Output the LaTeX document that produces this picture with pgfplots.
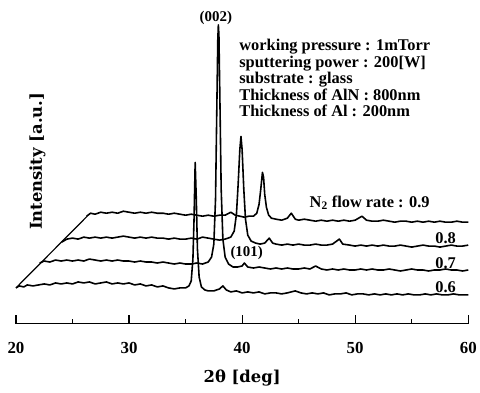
\documentclass[border=0pt]{standalone}
\usepackage{fontspec}
\setmainfont{Liberation Serif}
\newfontfamily\labfont{DejaVu Serif}
\usepackage{pgfplots}
\pgfplotsset{compat=1.18}
\begin{document}
\begin{tikzpicture}
\begin{axis}[
  x=11.35bp, y=1bp,
  xmin=20, xmax=60, ymin=0, ymax=325,
  axis x line=bottom, axis y line=none,
  axis line style={-, line width=1.2bp},
  xtick={20,30,40,50,60},
  minor x tick num=1,
  tick align=inside,
  major tick length=9bp, minor tick length=5bp,
  tick style={line width=1.2bp, black},
  ytick=\empty,
  clip=false,
  /pgf/number format/assume math mode=true,
  xticklabel style={font=\fontsize{17}{20}\selectfont\bfseries, anchor=base, yshift=-30bp},
]
% invisible frame setting the picture size
\path (axis cs:18.590,-69) rectangle (axis cs:60.881,325);

% N2 = 0.6
\addplot[black, line width=1.6bp, line join=round] coordinates {
(20.0,36) (20.3,38) (20.7,37) (21.0,39) (21.5,38) (22.0,39) (22.5,40) (23.0,39) (23.5,41) (24.0,40)
(24.5,41) (25.0,40) (25.5,42) (26.0,41) (26.5,42) (27.0,40) (27.5,41) (28.0,42) (28.5,40) (29.0,41)
(29.5,40) (30.0,41) (30.5,39) (31.0,40) (31.5,38) (32.0,39) (32.5,37) (33.0,38) (33.5,36) (34.0,35)
(34.5,36) (35.0,36) (35.3,38) (35.5,43) (35.65,65) (35.75,105) (35.85,162) (35.95,125) (36.05,75) (36.2,47)
(36.4,37) (36.7,34) (37.0,33) (37.5,33) (38.0,35) (38.3,38) (38.6,34) (39.0,32) (39.5,33) (40.0,31)
(40.5,32) (41.0,31) (41.5,32) (42.0,30) (42.5,31) (43.0,31) (43.5,30) (44.0,31) (44.7,33) (45.2,31)
(45.7,30) (46.2,31) (46.7,30) (47.2,31) (47.7,29) (48.2,30) (48.7,30) (49.2,31) (49.7,29) (50.2,30)
(50.7,30) (51.2,29) (51.7,30) (52.2,29) (52.7,30) (53.2,29) (53.7,30) (54.2,29) (54.7,30) (55.2,29)
(55.7,29) (56.2,30) (56.7,29) (57.2,30) (57.7,29) (58.2,29) (58.7,30) (59.2,29) (59.7,29) (60.0,29)
};
% N2 = 0.7
\addplot[black, line width=1.6bp, line join=round] coordinates {
(22.1,61) (22.5,63) (23.0,62) (23.5,64) (24.0,63) (24.5,64) (25.0,63) (25.5,64) (26.0,63) (26.5,65)
(27.0,64) (27.5,63) (28.0,64) (28.5,63) (29.0,64) (29.5,63) (30.0,63) (30.5,62) (31.0,63) (31.5,62)
(32.0,62) (32.5,61) (33.0,62) (33.5,61) (34.0,60) (34.5,61) (35.0,60) (35.5,60) (36.0,61) (36.5,60)
(37.0,62) (37.3,67) (37.5,80) (37.65,125) (37.75,205) (37.85,285) (37.9,300) (37.95,290) (38.05,215) (38.15,135)
(38.3,85) (38.5,67) (38.8,60) (39.2,57) (39.6,57) (40.0,58) (40.2,61) (40.5,57) (41.0,56) (41.5,57)
(42.0,56) (42.5,55) (43.0,56) (43.5,55) (44.0,56) (44.5,55) (45.0,55) (45.5,56) (46.0,55) (46.5,58)
(47.0,55) (47.5,54) (48.0,55) (48.5,54) (49.0,55) (49.5,54) (50.0,54) (50.5,55) (51.0,54) (51.5,55)
(52.0,54) (52.5,54) (53.0,55) (53.5,54) (54.0,53) (54.5,54) (55.0,55) (55.5,54) (56.0,54) (56.5,53)
(57.0,54) (57.5,54) (58.0,55) (58.5,54) (59.0,54) (59.5,53) (60.0,54)
};
% N2 = 0.8
\addplot[black, line width=1.6bp, line join=round] coordinates {
(24.05,82) (24.5,85) (25.0,86) (25.5,85) (26.0,87) (26.5,86) (27.0,87) (27.5,86) (28.0,87) (28.5,86)
(29.0,87) (29.5,88) (30.0,87) (30.5,86) (31.0,87) (31.5,86) (32.0,87) (32.5,86) (33.0,86) (33.5,85)
(34.0,86) (34.5,85) (35.0,85) (35.5,86) (36.0,85) (36.5,87) (37.0,86) (37.5,85) (38.0,84) (38.5,85)
(39.0,87) (39.3,93) (39.5,110) (39.65,140) (39.8,175) (39.9,188) (40.0,175) (40.15,135) (40.3,105) (40.5,89)
(40.8,83) (41.2,81) (41.6,80) (42.0,81) (42.4,86) (42.7,81) (43.0,80) (43.5,79) (44.0,80) (44.5,79)
(45.0,80) (45.5,79) (46.0,79) (46.5,80) (47.0,79) (47.5,79) (48.0,80) (48.6,85) (48.9,80) (49.5,79)
(50.0,78) (50.5,79) (51.0,78) (51.5,79) (52.0,78) (52.5,79) (53.0,78) (53.5,78) (54.0,79) (54.5,78)
(55.0,77) (55.5,78) (56.0,79) (56.5,78) (57.0,78) (57.5,77) (58.0,78) (58.5,79) (59.0,78) (59.5,78)
(60.0,79)
};
% N2 = 0.9
\addplot[black, line width=1.6bp, line join=round] coordinates {
(26.25,108) (26.6,111) (27.0,110) (27.5,112) (28.0,111) (28.5,112) (29.0,111) (29.5,113) (30.0,112) (30.5,111)
(31.0,112) (31.5,111) (32.0,112) (32.5,111) (33.0,111) (33.5,110) (34.0,111) (34.5,110) (35.0,109) (35.5,110)
(36.0,109) (36.5,108) (37.0,109) (37.5,108) (38.0,109) (38.5,109) (39.0,112) (39.4,109) (39.8,108) (40.2,107)
(40.6,108) (41.0,108) (41.3,111) (41.5,120) (41.65,135) (41.8,152) (41.9,147) (42.0,130) (42.15,117) (42.35,109)
(42.6,106) (43.0,105) (43.5,104) (44.0,106) (44.35,111) (44.7,105) (45.0,104) (45.5,105) (46.0,104) (46.5,103)
(47.0,104) (47.5,103) (48.0,104) (48.5,103) (49.0,104) (49.5,103) (50.0,104) (50.6,108) (51.0,104) (51.5,103)
(52.0,103) (52.5,104) (53.0,103) (53.5,102) (54.0,103) (54.5,103) (55.0,102) (55.5,103) (56.0,102) (56.5,103)
(57.0,102) (57.5,103) (58.0,102) (58.5,102) (59.0,103) (59.5,102) (60.0,102)
};
% diagonal connecting line
\addplot[black, line width=1.2bp] coordinates {(20.0,36) (26.3,108)};

% annotations
\node[font=\fontsize{15}{17}\selectfont\bfseries] at (axis cs:37.68,307.5) {(002)};
\node[font=\fontsize{15}{17}\selectfont\bfseries] at (axis cs:40.4,71) {(101)};
\begin{scope}[every node/.style={font=\fontsize{16.5}{17}\selectfont\bfseries, anchor=base west, inner sep=0pt}]
\node at (axis cs:39.74,274) {working pressure : 1mTorr};
\node at (axis cs:39.74,257.5) {sputtering power : 200[W]};
\node at (axis cs:39.74,241) {substrate : glass};
\node at (axis cs:39.74,224.5) {Thickness of AlN : 800nm};
\node at (axis cs:39.74,208) {Thickness of Al : 200nm};
\end{scope}
\begin{scope}[every node/.style={font=\fontsize{16.5}{17}\selectfont\bfseries, anchor=base, inner sep=0pt}]
\node at (axis cs:51.28,117) {N\textsubscript{2} flow rate : 0.9};
\node at (axis cs:58.0,81) {0.8};
\node at (axis cs:58.0,56) {0.7};
\node at (axis cs:58.0,31) {0.6};
\end{scope}
\node[font=\labfont\fontsize{16.5}{18}\selectfont\bfseries, anchor=base] at (axis cs:40,-59) {2θ [deg]};
\node[font=\labfont\fontsize{16.5}{18}\selectfont\bfseries, rotate=90] at (axis cs:21.9,163) {Intensity [a.u.]};
\end{axis}
\end{tikzpicture}
\end{document}
